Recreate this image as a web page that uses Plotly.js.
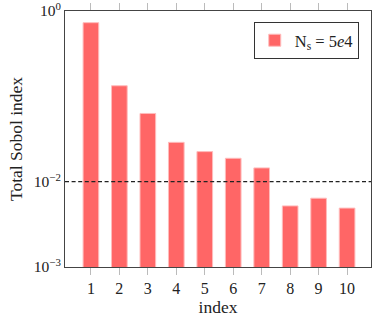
<!DOCTYPE html>
<html>
<head>
<meta charset="utf-8">
<script src="https://cdn.plot.ly/plotly-3.0.1.min.js"></script>
<style>html,body{margin:0;padding:0;background:#fff;}#chart{width:373px;height:317px;}</style>
</head>
<body>
<div id="chart"></div>
<script>
const indices = [1, 2, 3, 4, 5, 6, 7, 8, 9, 10];
const sobolTotal = [0.73, 0.133, 0.063, 0.0289, 0.0225, 0.0188, 0.0145, 0.0052, 0.0064, 0.0049];
const threshold = 0.01;
const xRange = [0.09, 10.84];
const yTickVals = [0.001, 0.01, 1];
const yTickText = ['10<sup>−3</sup>', '10<sup>−2</sup>', '10<sup>0</sup>'];
const seriesName = 'N<sub>s</sub> = 5<i>e</i>4';

const font = 'Liberation Serif, DejaVu Serif, serif';

const traces = [
  {
    type: 'bar',
    x: indices,
    y: sobolTotal,
    name: seriesName,
    width: 0.55,
    marker: {color: '#ff6666', line: {color: '#ffbcbc', width: 1}}
  },
  {
    type: 'scatter',
    mode: 'lines',
    x: xRange,
    y: [threshold, threshold],
    showlegend: false,
    hoverinfo: 'skip',
    line: {color: '#222', width: 1.3, dash: '4px,2.6px'}
  }
];

const layout = {
  width: 373,
  height: 317,
  margin: {l: 65, r: 2, t: 11, b: 50},
  paper_bgcolor: '#fff',
  plot_bgcolor: '#fff',
  font: {family: font, size: 16, color: '#222'},
  bargap: 0,
  xaxis: {
    range: xRange,
    tickmode: 'array',
    tickvals: indices,
    ticktext: indices.map(String),
    ticks: 'outside',
    ticklen: 7,
    tickcolor: '#bbb',
    tickwidth: 1,
    showline: true,
    linecolor: '#444',
    linewidth: 1,
    mirror: 'ticks',
    showgrid: false,
    zeroline: false,
    tickfont: {family: font, size: 16, color: '#222'},
    title: {text: 'index', font: {family: font, size: 17.5, color: '#222'}, standoff: 4}
  },
  yaxis: {
    type: 'log',
    range: [-3, 0],
    tickmode: 'array',
    tickvals: yTickVals,
    ticktext: yTickText,
    ticks: '',
    ticklabeloverflow: 'allow',
    showline: true,
    linecolor: '#444',
    linewidth: 1,
    mirror: true,
    showgrid: false,
    zeroline: false,
    tickfont: {family: font, size: 15.5, color: '#222'},
    title: {text: 'Total Sobol index', font: {family: font, size: 17.5, color: '#222'}, standoff: 6}
  },
  showlegend: true,
  legend: {
    x: 0.96, xanchor: 'right',
    y: 0.957, yanchor: 'top',
    bgcolor: '#fff',
    bordercolor: '#333',
    borderwidth: 1,
    font: {family: font, size: 16.5, color: '#222'},
    itemwidth: 30,
    tracegroupgap: 0
  }
};

Plotly.newPlot('chart', traces, layout, {displayModeBar: false, staticPlot: true});
</script>
</body>
</html>
